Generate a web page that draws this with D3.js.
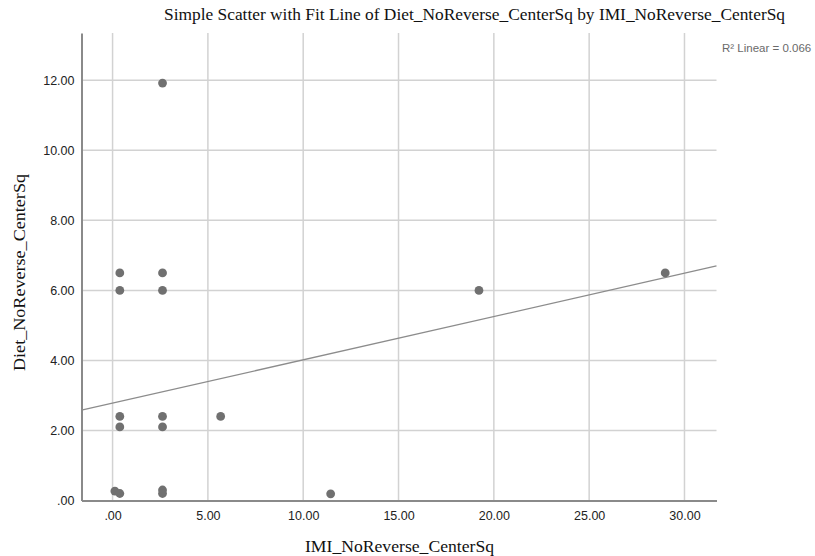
<!DOCTYPE html>
<html>
<head>
<meta charset="utf-8">
<script src="https://cdn.jsdelivr.net/npm/d3@7"></script>
<style>
  html, body { margin: 0; padding: 0; background: #fff; }
  svg { display: block; }
</style>
</head>
<body>
<svg id="chart" width="815" height="556"></svg>
<script>
// ---- data ----
const title = "Simple Scatter with Fit Line of Diet_NoReverse_CenterSq by IMI_NoReverse_CenterSq";
const xTitle = "IMI_NoReverse_CenterSq";
const yTitle = "Diet_NoReverse_CenterSq";
const fitLabel = "R\u00B2 Linear = 0.066";
const xValues = [0.12, 0.38, 2.62, 2.62, 11.44, 0.38, 0.38, 2.62, 2.62, 5.67, 0.38, 0.38, 2.62, 2.62, 19.22, 28.99, 2.62];
const yValues = [0.27, 0.20, 0.30, 0.20, 0.19, 2.10, 2.40, 2.10, 2.40, 2.40, 6.00, 6.50, 6.00, 6.50, 6.00, 6.50, 11.92];
const xTicks = [0, 5, 10, 15, 20, 25, 30];
const yTicks = [0, 2, 4, 6, 8, 10, 12];
const xDomain = [-1.63, 31.68];
const yDomain = [0, 13.35];
const fitIntercept = [2.78];
const fitSlope = [0.1237];

// ---- layout ----
const svg = d3.select("#chart");
const m = { left: 81.5, right: 716.5, top: 33, bottom: 500.5 };

const x = d3.scaleLinear().domain(xDomain).range([m.left, m.right]);
const y = d3.scaleLinear().domain(yDomain).range([m.bottom, m.top]);
const fmt = v => v === 0 ? ".00" : d3.format(".2f")(v);

// gridlines
const gGrid = svg.append("g");
gGrid.selectAll("line.vg").data(xTicks).join("line")
  .attr("x1", d => x(d)).attr("x2", d => x(d))
  .attr("y1", m.top).attr("y2", m.bottom)
  .attr("stroke", "#d2d2d2").attr("stroke-width", 1.5);
gGrid.selectAll("line.hg").data(yTicks.filter(d => d > 0)).join("line")
  .attr("x1", m.left).attr("x2", m.right)
  .attr("y1", d => y(d)).attr("y2", d => y(d))
  .attr("stroke", "#d2d2d2").attr("stroke-width", 1.5);

// axes
const xAxis = svg.append("g").attr("transform", `translate(0,${m.bottom})`)
  .call(d3.axisBottom(x).tickValues(xTicks).tickFormat(fmt).tickSize(0).tickPadding(11));
const yAxis = svg.append("g").attr("transform", `translate(${m.left},0)`)
  .call(d3.axisLeft(y).tickValues(yTicks).tickFormat(fmt).tickSize(0).tickPadding(7));
[xAxis, yAxis].forEach(g => {
  g.select(".domain").attr("stroke", "#8a8a8a").attr("stroke-width", 2);
  g.selectAll("text").attr("font-family", "Liberation Sans, Arial, sans-serif")
    .attr("font-size", 12.5).attr("fill", "#222");
});

// fit line
const fitData = [xDomain[0], xDomain[1]].map(v => ({ x: v, y: fitIntercept[0] + fitSlope[0] * v }));
svg.append("path").datum(fitData)
  .attr("d", d3.line().x(d => x(d.x)).y(d => y(d.y)))
  .attr("stroke", "#8c8c8c").attr("stroke-width", 1.3).attr("fill", "none");

// points
svg.append("g").selectAll("circle").data(xValues.map((v, i) => [v, yValues[i]])).join("circle")
  .attr("cx", d => x(d[0])).attr("cy", d => y(d[1])).attr("r", 4.4)
  .attr("fill", "#707070");

// texts
const serif = "Liberation Serif, Times New Roman, serif";
svg.append("text").attr("x", 164).attr("y", 20)
  .attr("font-family", serif).attr("font-size", 16)
  .attr("textLength", 621).attr("lengthAdjust", "spacingAndGlyphs")
  .attr("fill", "#111").text(title);
svg.append("text").attr("x", 305).attr("y", 552)
  .attr("font-family", serif).attr("font-size", 16)
  .attr("textLength", 189).attr("lengthAdjust", "spacingAndGlyphs")
  .attr("fill", "#111").text(xTitle);
svg.append("text").attr("transform", "translate(25,371) rotate(-90)")
  .attr("font-family", serif).attr("font-size", 16)
  .attr("textLength", 197).attr("lengthAdjust", "spacingAndGlyphs")
  .attr("fill", "#111").text(yTitle);
svg.append("text").attr("x", 722).attr("y", 52)
  .attr("font-family", "Liberation Sans, Arial, sans-serif").attr("font-size", 11.5)
  .attr("fill", "#6a6a6a").text(fitLabel);
</script>
</body>
</html>
